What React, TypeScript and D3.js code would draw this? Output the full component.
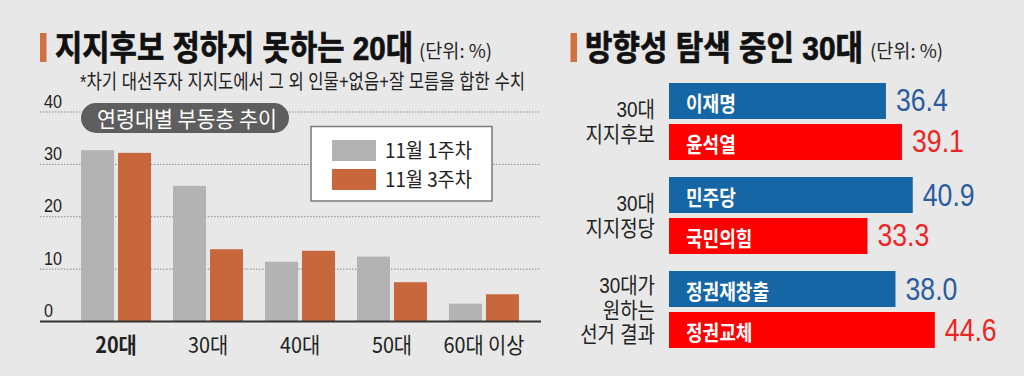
import React, { useLayoutEffect, useRef, useState } from "react";
import * as d3 from "d3";

// ---- Left chart data ----
const categories = ["20대", "30대", "40대", "50대", "60대 이상"];
const seriesNames = ["11월 1주차", "11월 3주차"];
const week1 = [32.7, 25.9, 11.4, 12.4, 3.4];
const week3 = [32.2, 13.8, 13.5, 7.5, 5.2];
const yTicks = [0, 10, 20, 30, 40];

// ---- Right chart data ----
const groupIds = ["candidate", "party", "result"];
const groupLabels = [["30대", "지지후보"], ["30대", "지지정당"], ["30대가", "원하는", "선거 결과"]];
const blueNames = ["이재명", "민주당", "정권재창출"];
const redNames = ["윤석열", "국민의힘", "정권교체"];
const blueValues = [36.4, 40.9, 38.0];
const redValues = [39.1, 33.3, 44.6];

const KR = "'Noto Sans CJK KR', 'Noto Sans', sans-serif";
const MIX = "'Liberation Sans', 'Noto Sans CJK KR', sans-serif";
const NUM = "'Liberation Sans', Arial, sans-serif";

const BG = "#e8e8e8";
const GRAY = "#b3b3b3";
const ORANGE = "#c8663c";
const ACCENT = "#d2703f";
const BLUE = "#1666a6";
const BLUE_TXT = "#2a5ca0";
const RED = "#ff0000";
const RED_TXT = "#ec2424";

function ST({ x, y, sx = 0.88, anchor = "start", size, weight = 400, fill = "#222", family = KR, children }: any) {
  return (
    <text
      transform={`translate(${x},${y}) scale(${sx},1)`}
      textAnchor={anchor}
      fontSize={size}
      fontWeight={weight}
      fill={fill}
      fontFamily={family}
    >
      {children}
    </text>
  );
}

// Text horizontally scaled to fit a given length (measured after mount)
function FitText({ x, y, len, size, weight = 400, fill = "#222", family = KR, stroke, children }: any) {
  const ref = useRef<SVGTextElement>(null);
  const [sx, setSx] = useState(0.88);
  useLayoutEffect(() => {
    if (ref.current) {
      const w = ref.current.getComputedTextLength();
      if (w > 0) setSx(len / w);
    }
  }, [len, size, children]);
  return (
    <text
      ref={ref}
      transform={`translate(${x},${y}) scale(${sx},1)`}
      fontSize={size}
      fontWeight={weight}
      fill={fill}
      stroke={stroke ? fill : undefined}
      strokeWidth={stroke || undefined}
      fontFamily={family}
    >
      {children}
    </text>
  );
}

export default function App() {
  // Left chart scales
  const x0 = d3.scaleBand().domain(categories).range([70, 530]).paddingInner(0.239).paddingOuter(0.12);
  const x1 = d3.scaleBand().domain(seriesNames).range([0, x0.bandwidth()]).paddingInner(0.108);
  const y = d3.scaleLinear().domain([0, 40]).range([321.5, 112]);
  const colors = d3.scaleOrdinal<string, string>().domain(seriesNames).range([GRAY, ORANGE]);
  const seriesValues = [week1, week3];

  // Right chart scales
  const gy = d3.scaleBand().domain(groupIds).range([83, 348]).paddingInner(0.181).paddingOuter(0);
  const iy = d3.scaleBand().domain(["blue", "red"]).range([0, gy.bandwidth()]).paddingInner(0.122);
  const xr = d3.scaleLinear().domain([0, 50]).range([669, 669 + 298]);
  const fmt = d3.format(".1f");

  const lineH = 24.5;

  return (
    <>
      <style>{`body{margin:0;background:${BG}}`}</style>
      <svg width={1024} height={376} style={{ display: "block" }}>
        <rect x={0} y={0} width={1024} height={376} fill={BG} />

        {/* ===== Left panel ===== */}
        <rect x={40} y={33} width={6.5} height={29} fill={ACCENT} />
        <FitText x={55} y={60} len={358} size={34} weight={700} fill="#111" stroke={0.7} family={MIX}>지지후보 정하지 못하는 20대</FitText>
        <FitText x={419} y={58} len={73} size={19} fill="#222">(단위: %)</FitText>
        <FitText x={80} y={89} len={445} size={20.5} fill="#222" family={MIX}>*차기 대선주자 지지도에서 그 외 인물+없음+잘 모름을 합한 수치</FitText>

        {/* gridlines */}
        {yTicks.filter((t) => t > 0).map((t) => (
          <line key={t} x1={40} x2={541} y1={y(t)} y2={y(t)} stroke="#8a8a8a" strokeWidth={1} strokeDasharray="1.5,1.5" />
        ))}
        {yTicks.map((t) => (
          <ST key={t} x={44} y={y(t) - 4.5} sx={0.9} size={18} family={NUM} fill="#222">
            {t}
          </ST>
        ))}

        {/* bars */}
        {categories.map((c, i) => (
          <g key={c} transform={`translate(${x0(c)},0)`}>
            {seriesNames.map((s, j) => (
              <rect
                key={s}
                x={x1(s)}
                y={y(seriesValues[j][i])}
                width={x1.bandwidth()}
                height={y(0) - y(seriesValues[j][i])}
                fill={colors(s)}
              />
            ))}
          </g>
        ))}
        <line x1={40} x2={541} y1={y(0)} y2={y(0)} stroke="#333" strokeWidth={2} />

        {categories.map((c, i) => (
          <ST key={c} x={(x0(c) as number) + x0.bandwidth() / 2} y={353} anchor="middle" size={22} sx={0.9} weight={i === 0 ? 700 : 400} fill="#222">
            {c}
          </ST>
        ))}

        {/* pill */}
        <rect x={81} y={103} width={208} height={30} rx={15} fill="#5e5e5e" />
        <FitText x={97} y={126.5} len={180} size={22} fill="#fff">연령대별 부동층 추이</FitText>

        {/* legend */}
        <rect x={311} y={126.5} width={181} height={74.5} fill="#fff" stroke="#7a7a7a" strokeWidth={1.5} />
        {seriesNames.map((s, j) => (
          <g key={s}>
            <rect x={332} y={140 + j * 29} width={44} height={21} fill={colors(s)} />
            <FitText x={385} y={158 + j * 29} len={87} size={20} fill="#222">{s}</FitText>
          </g>
        ))}

        {/* ===== Right panel ===== */}
        <rect x={570.5} y={33} width={6.5} height={29} fill={ACCENT} />
        <FitText x={585} y={60} len={278} size={34} weight={700} fill="#111" stroke={0.7} family={MIX}>방향성 탐색 중인 30대</FitText>
        <FitText x={870} y={58} len={73} size={19} fill="#222">(단위: %)</FitText>

        {groupIds.map((g, i) => {
          const gTop = gy(g) as number;
          const center = gTop + gy.bandwidth() / 2;
          const lines = groupLabels[i];
          const first = center - ((lines.length - 1) * lineH) / 2 + 8;
          const rows = [
            { key: "blue", name: blueNames[i], v: blueValues[i], fill: BLUE, tfill: BLUE_TXT },
            { key: "red", name: redNames[i], v: redValues[i], fill: RED, tfill: RED_TXT },
          ];
          return (
            <g key={g}>
              {lines.map((l, k) => (
                <ST key={k} x={655} y={first + k * lineH} anchor="end" size={22} sx={0.86} family={MIX} fill="#222">
                  {l}
                </ST>
              ))}
              {rows.map((r) => {
                const by = gTop + (iy(r.key) as number);
                const bh = iy.bandwidth();
                return (
                  <g key={r.key}>
                    <rect x={xr(0)} y={by} width={xr(r.v) - xr(0)} height={bh} fill={r.fill} />
                    <ST x={686} y={by + bh / 2 + 10} size={21} sx={0.86} weight={700} fill="#fff">
                      {r.name}
                    </ST>
                    <ST x={xr(r.v) + 10} y={by + bh / 2 + 10.5} size={31} sx={0.86} family={NUM} fill={r.tfill}>
                      {fmt(r.v)}
                    </ST>
                  </g>
                );
              })}
            </g>
          );
        })}
      </svg>
    </>
  );
}
